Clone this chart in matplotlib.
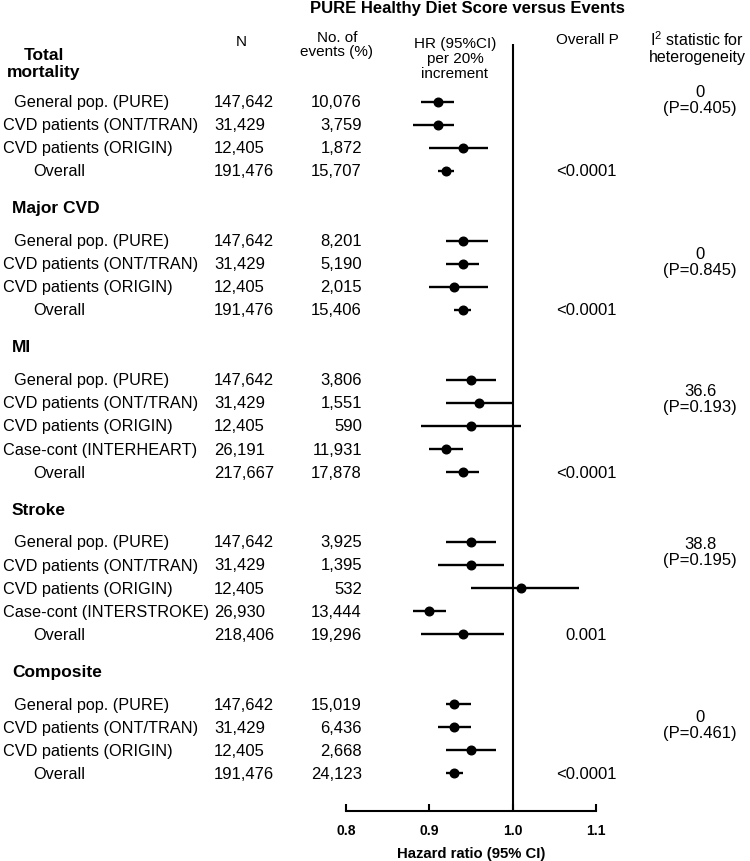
import matplotlib
matplotlib.use("Agg")
import matplotlib.pyplot as plt
from matplotlib.transforms import blended_transform_factory

plt.rcParams['font.family'] = 'Liberation Sans'
plt.rcParams['mathtext.fontset'] = 'custom'
plt.rcParams['mathtext.rm'] = 'Liberation Sans'
plt.rcParams['mathtext.it'] = 'Liberation Sans:italic'

# Data
outcomes = ["Total\nmortality", "Major CVD", "MI", "Stroke", "Composite"]
labels = [
    ["General pop. (PURE)", "CVD patients (ONT/TRAN)", "CVD patients (ORIGIN)", "Overall"],
    ["General pop. (PURE)", "CVD patients (ONT/TRAN)", "CVD patients (ORIGIN)", "Overall"],
    ["General pop. (PURE)", "CVD patients (ONT/TRAN)", "CVD patients (ORIGIN)", "Case-cont (INTERHEART)", "Overall"],
    ["General pop. (PURE)", "CVD patients (ONT/TRAN)", "CVD patients (ORIGIN)", "Case-cont (INTERSTROKE)", "Overall"],
    ["General pop. (PURE)", "CVD patients (ONT/TRAN)", "CVD patients (ORIGIN)", "Overall"],
]
n_vals = [
    ["147,642", "31,429", "12,405", "191,476"],
    ["147,642", "31,429", "12,405", "191,476"],
    ["147,642", "31,429", "12,405", "26,191", "217,667"],
    ["147,642", "31,429", "12,405", "26,930", "218,406"],
    ["147,642", "31,429", "12,405", "191,476"],
]
events = [
    ["10,076", "3,759", "1,872", "15,707"],
    ["8,201", "5,190", "2,015", "15,406"],
    ["3,806", "1,551", "590", "11,931", "17,878"],
    ["3,925", "1,395", "532", "13,444", "19,296"],
    ["15,019", "6,436", "2,668", "24,123"],
]
hr = [
    [0.91, 0.91, 0.94, 0.92],
    [0.94, 0.94, 0.93, 0.94],
    [0.95, 0.96, 0.95, 0.92, 0.94],
    [0.95, 0.95, 1.01, 0.90, 0.94],
    [0.93, 0.93, 0.95, 0.93],
]
ci_lo = [
    [0.89, 0.88, 0.90, 0.91],
    [0.92, 0.92, 0.90, 0.93],
    [0.92, 0.92, 0.89, 0.90, 0.92],
    [0.92, 0.91, 0.95, 0.88, 0.89],
    [0.92, 0.91, 0.92, 0.92],
]
ci_hi = [
    [0.93, 0.93, 0.97, 0.93],
    [0.97, 0.96, 0.97, 0.95],
    [0.98, 1.00, 1.01, 0.94, 0.96],
    [0.98, 0.99, 1.08, 0.92, 0.99],
    [0.95, 0.95, 0.98, 0.94],
]
overall_p = ["<0.0001", "<0.0001", "<0.0001", "0.001", "<0.0001"]
i2_vals = ["0", "0", "36.6", "38.8", "0"]
i2_p = ["0.405", "0.845", "0.193", "0.195", "0.461"]
i2_row_pos = [-0.1, 0.9, 0.8, 0.4, 0.9]   # where the I2 block sits (in rows)

W, H = 750, 862
fig = plt.figure(figsize=(W / 100, H / 100), dpi=100, facecolor='white')
ax = fig.add_axes([346 / W, 50 / H, 250 / W, 812 / H])
ax.set_xlim(0.8, 1.1)
ax.set_ylim(812, 0)
tr = blended_transform_factory(fig.transFigure, ax.transData)

def px(x):
    return x / W

FS = 12
LFS = 11.7
HFS = 11

# headers
fig.text(px(467), 1 - 9 / H, "PURE Healthy Diet Score versus Events",
         ha='center', va='center', fontsize=12, fontweight='bold')
ax.text(px(241), 42, "N", transform=tr, ha='center', va='center', fontsize=HFS)
ax.text(px(337), 45, "No. of\nevents (%)", transform=tr, ha='center', va='center',
        fontsize=HFS, linespacing=1.05)
ax.text(px(455), 59, "HR (95%CI)\nper 20%\nincrement", transform=tr, ha='center',
        va='center', fontsize=HFS, linespacing=1.05)
ax.text(px(587), 40, "Overall P", transform=tr, ha='center', va='center', fontsize=HFS)
ax.text(px(697), 48, "I$^2$ statistic for\nheterogeneity", transform=tr, ha='center',
        va='center', fontsize=11.5, linespacing=1.1)

ROW = 23.1
y = 102.5
for k, name in enumerate(outcomes):
    if k == 0:
        ax.text(px(44), 64, name, transform=tr, ha='center', va='center',
                fontsize=12.5, fontweight='bold', linespacing=1.15)
    else:
        y += 37.0
        ax.text(px(12), y, name, transform=tr, ha='left', va='center',
                fontsize=12.5, fontweight='bold')
        y += 32.8
    ys = []
    for j, lab in enumerate(labels[k]):
        if j > 0:
            y += ROW
        ys.append(y)
        if lab == "Overall":
            lx = 33
        elif lab.startswith("General"):
            lx = 14
        else:
            lx = 3
        ax.text(px(lx), y, lab, transform=tr, ha='left', va='center', fontsize=LFS)
        ax.text(px(214), y, n_vals[k][j], transform=tr, ha='left', va='center', fontsize=FS)
        ax.text(px(362), y, events[k][j], transform=tr, ha='right', va='center', fontsize=FS)
    ax.hlines(ys, ci_lo[k], ci_hi[k], color='black', lw=1.7, zorder=3)
    ax.plot(hr[k], ys, 'o', color='black', ms=6.2, zorder=4)
    ax.text(px(586), ys[-1], overall_p[k], transform=tr, ha='center', va='center', fontsize=FS)
    yi = ys[0] + i2_row_pos[k] * ROW
    ax.text(px(700), yi, f"{i2_vals[k]}\n(P={i2_p[k]})", transform=tr, ha='center',
            va='center', fontsize=FS, linespacing=1.1)

# reference line at HR = 1
ax.vlines(1.0, 45, 812, color='black', lw=1.5, zorder=2)

for s in ['top', 'left', 'right']:
    ax.spines[s].set_visible(False)
ax.spines['bottom'].set_bounds(0.8, 1.1)
ax.spines['bottom'].set_linewidth(1.5)
ax.set_yticks([])
ax.set_xticks([0.8, 0.9, 1.0, 1.1])
ax.set_xticklabels(["0.8", "0.9", "1.0", "1.1"], fontweight='bold', fontsize=10)
ax.tick_params(axis='x', direction='in', length=5, width=1.5, pad=9)
ax.set_xlabel("Hazard ratio (95% CI)", fontweight='bold', fontsize=10.7, labelpad=6)
ax.patch.set_visible(False)

fig.savefig("out.png", dpi=100, facecolor='white')
